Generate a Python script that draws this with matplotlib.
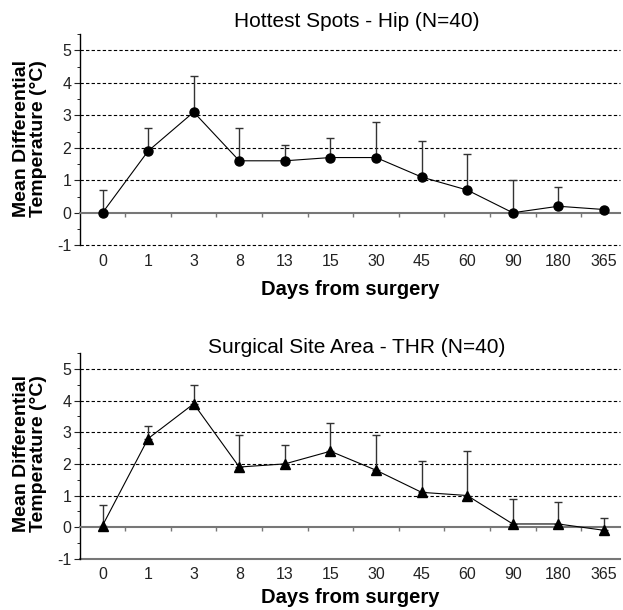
import numpy as np
import matplotlib
matplotlib.use("Agg")
import matplotlib.pyplot as plt

plt.rcParams['font.family'] = ['Liberation Sans', 'DejaVu Sans']
plt.rcParams['axes.unicode_minus'] = False

days = ["0", "1", "3", "8", "13", "15", "30", "45", "60", "90", "180", "365"]

# Hottest Spots - Hip
hip_mean = [0.0, 1.9, 3.1, 1.6, 1.6, 1.7, 1.7, 1.1, 0.7, 0.0, 0.2, 0.1]
hip_upper = [0.7, 2.6, 4.2, 2.6, 2.1, 2.3, 2.8, 2.2, 1.8, 1.0, 0.8, 0.1]

# Surgical Site Area - THR
thr_mean = [0.05, 2.8, 3.9, 1.9, 2.0, 2.4, 1.8, 1.1, 1.0, 0.1, 0.1, -0.1]
thr_upper = [0.7, 3.2, 4.5, 2.9, 2.6, 3.3, 2.9, 2.1, 2.4, 0.9, 0.8, 0.3]

fig = plt.figure(figsize=(6.23, 6.10), dpi=100)
ax1 = fig.add_axes([0.128, 0.598, 0.867, 0.346])
ax2 = fig.add_axes([0.128, 0.084, 0.867, 0.337])


def draw_panel(ax, mean, upper, marker, dashed_bottom):
    x = np.arange(len(days))
    mean = np.array(mean)
    upper = np.array(upper)
    err = [np.zeros_like(mean), upper - mean]
    ax.errorbar(x, mean, yerr=err, fmt='none', ecolor='#333333',
                elinewidth=1.0, capsize=3, capthick=1.0, zorder=2)
    ax.plot(x, mean, color='black', lw=0.8, marker=marker, ms=6.5,
            zorder=3)

    ax.set_xlim(-0.5, 11.35)
    ax.set_ylim(-1, 5.5)

    # dashed gridlines
    grid_levels = [1, 2, 3, 4, 5] + ([-1] if dashed_bottom else [])
    for g in grid_levels:
        ax.axhline(g, color='black', lw=0.8, ls=(0, (3, 2)), zorder=1,
                   clip_on=False)

    for s in ['top', 'right']:
        ax.spines[s].set_visible(False)
    ax.spines['left'].set_linewidth(1.0)

    # x axis line at zero, small ticks between categories
    ax.spines['bottom'].set_position(('data', 0))
    ax.spines['bottom'].set_color('#777777')
    ax.spines['bottom'].set_linewidth(1.5)
    ax.set_xticks(np.arange(0.5, 11, 1.0))
    ax.tick_params(axis='x', length=3, width=1, color='#777777',
                   labelbottom=False)

    ax.set_yticks(range(-1, 6))
    ax.set_yticks(np.arange(-1, 5.6, 0.5), minor=True)
    ax.tick_params(axis='y', which='major', length=4, labelsize=11.5,
                   pad=2, colors='#222222')
    ax.tick_params(axis='y', which='minor', length=2.5)

    # category labels along the bottom edge
    lab = ax.secondary_xaxis('bottom')
    lab.set_xticks(x)
    lab.set_xticklabels(days)
    lab.tick_params(length=0, labelsize=11.5, pad=6, colors='#222222')
    if dashed_bottom:
        lab.spines['bottom'].set_visible(False)
    else:
        lab.spines['bottom'].set_color('#777777')
        lab.spines['bottom'].set_linewidth(1.5)


draw_panel(ax1, hip_mean, hip_upper, 'o', True)
draw_panel(ax2, thr_mean, thr_upper, '^', False)

fig.text(0.573, 0.964, "Hottest Spots - Hip (N=40)", ha='center',
         va='center', fontsize=15)
fig.text(0.573, 0.431, "Surgical Site Area - THR (N=40)", ha='center',
         va='center', fontsize=15)

fig.text(0.563, 0.526, "Days from surgery", ha='center', va='center',
         fontsize=14.5, fontweight='bold')
fig.text(0.563, 0.021, "Days from surgery", ha='center', va='center',
         fontsize=14.5, fontweight='bold')

ylab = "Mean Differential\nTemperature (\u00b0C)"
fig.text(0.048, 0.773, ylab, ha='center', va='center', rotation=90,
         fontsize=14, fontweight='bold', linespacing=1.0)
fig.text(0.048, 0.257, ylab, ha='center', va='center', rotation=90,
         fontsize=14, fontweight='bold', linespacing=1.0)

fig.savefig("out.png", dpi=100)
